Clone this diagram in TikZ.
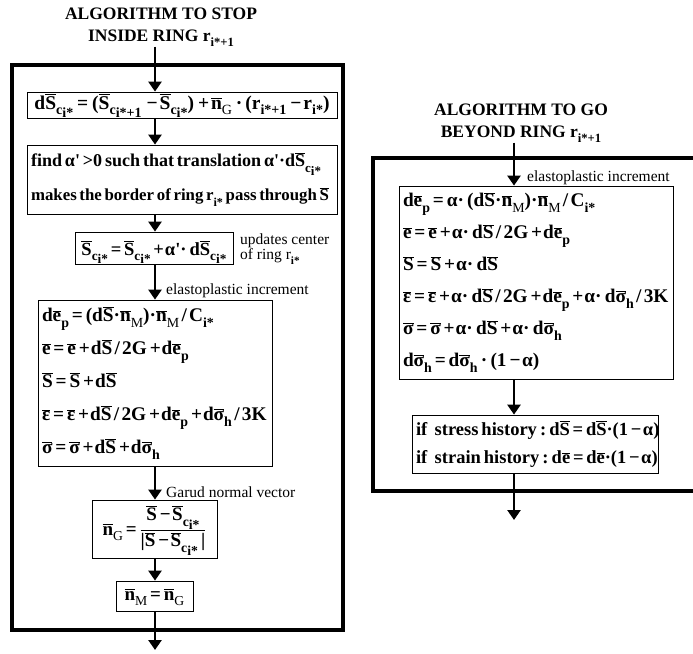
\documentclass[tikz,border=0pt]{standalone}
\usepackage{graphicx}
\usepackage{fontspec}
\setmainfont{Liberation Serif}
\usetikzlibrary{arrows.meta}
\makeatletter
\newcommand\lo[1]{\raisebox{-0.3em}{\fontsize{\fpeval{0.72*\f@size}}{\f@baselineskip}\selectfont #1}}
\makeatother
\newcommand\ov[1]{\ensuremath{\overline{\mbox{#1}}}}
\newcommand\ci{\lo{c\raisebox{-0.22em}{i*}}}
\newcommand\ap{α\textquotesingle}
\newcommand\eq{\hspace{0.15em}=\hspace{0.15em}}
\newcommand\pl{\hspace{0.15em}+\hspace{0.05em}}
\newcommand\mi{\hspace{0.15em}−\hspace{0.08em}}
\newcommand\dv{\hspace{0.12em}/\hspace{0.12em}}
\newcommand\fml{\fontsize{19}{22}\selectfont\bfseries}
\newcommand\ttl{\fontsize{17.5}{22}\selectfont\bfseries}
\newcommand\lbl{\fontsize{15.5}{15}\selectfont}
% multi-line box content: [size] width, height, baselineskip, lines
\newcommand\mlines[5][18.5]{\parbox[c][#3][c]{#2}{\fontsize{#1}{#4}\selectfont\bfseries\raggedright\spaceskip=0.16em plus 0.02em\relax #5}}
\begin{document}
\begin{tikzpicture}[x=1pt,y=-1pt,
  box/.style={draw, line width=0.8pt, inner xsep=4pt, inner ysep=0pt, font=\fml, anchor=center},
  frame/.style={line width=3.5pt},
  arr/.style={line width=2.8pt, -{Triangle[width=13pt,length=10pt]}},
  ann/.style={font=\lbl, anchor=west, inner sep=0pt, align=left},
  title/.style={font=\ttl, align=center, inner sep=0pt}]
\useasboundingbox (0,0) rectangle (693,653);
\clip (0,0) rectangle (693,653);
\coordinate (lx) at (155,0);
\coordinate (rx) at (514,0);
% ---------- left ----------
\node[title] (t1) at (161,27) {ALGORITHM TO STOP\\INSIDE RING r\lo{i*+1}};
\draw[frame] (12,65) rectangle (343,630);
\node[box, minimum width=310pt, text height=17pt, text depth=9pt, font=\fontsize{19.5}{22}\selectfont\bfseries] (b1) at (182,105)
  {d\ov{S}\ci\hspace{0.2em}=\hspace{0.2em}(\ov{S}\lo{c\raisebox{-0.22em}{i*+1}}\hspace{0.25em}−\hspace{0.1em}\ov{S}\ci)\hspace{0.2em}+\hspace{0.1em}\ov{n}\lo{\mdseries G}\hspace{0.2em}·\hspace{0.15em}(r\lo{i*+1}\hspace{0.2em}−\hspace{0.1em}r\lo{i*})};
\node[box, minimum width=310pt, minimum height=69pt] (b2) at (182,179.5)
  {\mlines[17.6]{302pt}{69pt}{34pt}{\resizebox{290pt}{!}{\mbox{find \ap{} >0 such that translation \ap·d\ov{S}\ci}}\\\resizebox{298pt}{!}{\mbox{makes the border of ring r\lo{i*} pass through \ov{S}}}}};
\node[box, minimum width=158pt, text height=23pt, text depth=9pt, font=\fontsize{18.5}{22}\selectfont\bfseries] (b3) at (154,248)
  {\ov{S}\ci\eq\ov{S}\ci\pl\ap·\,d\ov{S}\ci};
\node[ann] (u1) at (240,249) {updates center\\of ring r\lo{\textbf{i*}}};
\node[box, minimum width=234pt, minimum height=166pt] (b4) at (155,383)
  {\mlines[19.3]{226pt}{166pt}{33pt}{%
   \mbox{d\ov{e}\lo{p}\eq(d\ov{S}·\ov{n}\lo{\mdseries M})·\ov{n}\lo{\mdseries M}\dv C\lo{i*}}\\
   \mbox{\ov{e}\eq\ov{e}\pl d\ov{S}\dv 2G\pl d\ov{e}\lo{p}}\\
   \mbox{\ov{S}\eq\ov{S}\pl d\ov{S}}\\
   \mbox{\ov{ε}\eq\ov{ε}\pl d\ov{S}\dv 2G\pl d\ov{e}\lo{p}\pl d\ov{σ}\lo{h}\dv 3K}\\
   \mbox{\ov{σ}\eq\ov{σ}\pl d\ov{S}\pl d\ov{σ}\lo{h}}}};
\node[ann] (l1) at (166,291) {elastoplastic increment};
\node[box, minimum width=125pt, text height=35pt, text depth=23pt] (b5) at (154.5,529)
  {\ov{n}\lo{\mdseries G}\eq$\displaystyle\frac{\mbox{\ov{S}\mi\ov{S}\ci}}{\mbox{|\ov{S}\mi\ov{S}\ci\,|}}$};
\node[ann] (l2) at (166,492) {Garud normal vector};
\node[box, minimum width=77pt, text height=19pt, text depth=11pt] (b6) at (154.5,596)
  {\ov{n}\lo{\mdseries M}\eq\ov{n}\lo{\mdseries G}};
\coordinate (e1) at (155,650);
\draw[arr] (t1.south -| lx) -- (b1.north -| lx);
\draw[arr] (b1.south -| lx) -- (b2.north -| lx);
\draw[arr] (b2.south -| lx) -- (b3.north -| lx);
\draw[arr] (b3.south -| lx) -- (b4.north -| lx);
\draw[arr] (b4.south -| lx) -- (b5.north -| lx);
\draw[arr] (b5.south -| lx) -- (b6.north -| lx);
\draw[arr] (b6.south -| lx) -- (e1);
% ---------- right ----------
\node[title] (t2) at (521,123) {ALGORITHM TO GO\\BEYOND RING r\lo{i*+1}};
\draw[frame] (373,158) rectangle (720,491);
\node[box, minimum width=274pt, minimum height=193pt] (ba) at (536,282.5)
  {\mlines[19.3]{266pt}{193pt}{32pt}{%
   \mbox{d\ov{e}\lo{p}\eq α·\,(d\ov{S}·\ov{n}\lo{\mdseries M})·\ov{n}\lo{\mdseries M}\dv C\lo{i*}}\\
   \mbox{\ov{e}\eq\ov{e}\pl α·\,d\ov{S}\dv 2G\pl d\ov{e}\lo{p}}\\
   \mbox{\ov{S}\eq\ov{S}\pl α·\,d\ov{S}}\\
   \mbox{\ov{ε}\eq\ov{ε}\pl α·\,d\ov{S}\dv 2G\pl d\ov{e}\lo{p}\pl α·\,d\ov{σ}\lo{h}\dv 3K}\\
   \mbox{\ov{σ}\eq\ov{σ}\pl α·\,d\ov{S}\pl α·\,d\ov{σ}\lo{h}}\\
   \mbox{d\ov{σ}\lo{h}\eq d\ov{σ}\lo{h}\,·\,(1\mi α)}}};
\node[ann] (l3) at (527,178) {elastoplastic increment};
\node[box, minimum width=246pt, minimum height=58pt] (bb) at (535,444)
  {\mlines{238pt}{58pt}{28pt}{%
   \mbox{if\hspace{0.4em}stress history\,:\,d\ov{S}\eq d\ov{S}·(1\mi α)}\\
   \mbox{if\hspace{0.4em}strain history\,:\,d\ov{e}\eq d\ov{e}·(1\mi α)}}};
\coordinate (e2) at (514,520);
\draw[arr] (t2.south -| rx) -- (ba.north -| rx);
\draw[arr] (ba.south -| rx) -- (bb.north -| rx);
\draw[arr] (bb.south -| rx) -- (e2);
\end{tikzpicture}
\end{document}
